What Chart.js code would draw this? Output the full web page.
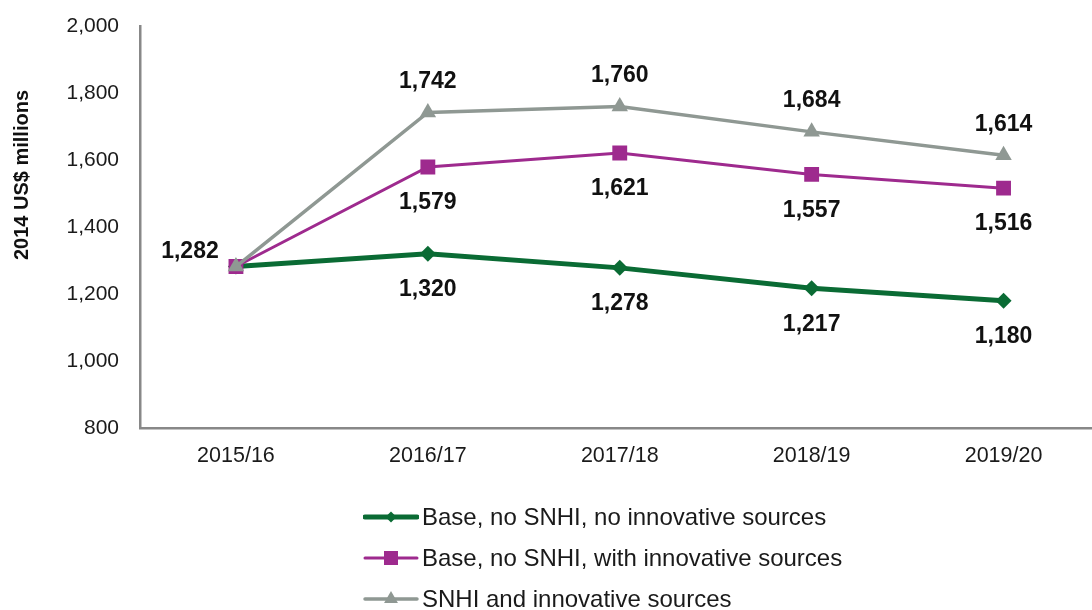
<!DOCTYPE html>
<html>
<head>
<meta charset="utf-8">
<script src="https://cdn.jsdelivr.net/npm/chart.js@4.4.1/dist/chart.umd.min.js"></script>
<style>
  html, body { margin: 0; padding: 0; background: #fff; overflow: hidden; width: 1092px; height: 610px; }
  #wrap { position: absolute; left: 0; top: 0; width: 1110px; height: 480px; }
  #legend { position: absolute; left: 363px; top: 496px; font-family: "Liberation Sans", Arial, sans-serif; font-size: 24px; color: #1a1a1a; }
  .row { display: flex; align-items: center; height: 41px; }
  .row canvas { margin-right: 3px; }
</style>
</head>
<body>
<div id="wrap"><canvas id="c" width="1110" height="480"></canvas></div>
<div id="legend"></div>
<script>
// ---- data ----
const categories = ["2015/16", "2016/17", "2017/18", "2018/19", "2019/20"];
const seriesNames = [
  "Base, no SNHI, no innovative sources",
  "Base, no SNHI, with innovative sources",
  "SNHI and innovative sources"
];
const baseNoInnovative   = [1282, 1320, 1278, 1217, 1180];
const baseWithInnovative = [1282, 1579, 1621, 1557, 1516];
const snhiInnovative     = [1282, 1742, 1760, 1684, 1614];
const yTicks = [800, 1000, 1200, 1400, 1600, 1800, 2000];
const yTitle = "2014 US$ millions";

// ---- styles ----
const styles = [
  { color: "#0A6B34", width: 5,   point: "rectRot",  radius: 8,    labelPos: "below" },
  { color: "#9E2A8E", width: 3,   point: "rect",     radius: 10.5, labelPos: "below" },
  { color: "#8F9893", width: 3.5, point: "triangle", radius: 9.5,  labelPos: "above" }
];
const seriesData = [baseNoInnovative, baseWithInnovative, snhiInnovative];

const fmt = v => v.toLocaleString("en-US");

const datasets = seriesData.map((d, i) => ({
  label: seriesNames[i],
  data: d,
  borderColor: styles[i].color,
  backgroundColor: styles[i].color,
  borderWidth: styles[i].width,
  pointStyle: styles[i].point,
  pointRadius: styles[i].radius,
  pointBorderWidth: 0,
  pointBackgroundColor: styles[i].color,
  tension: 0,
  order: 3 - i
}));

const labelPlugin = {
  id: "dataLabels",
  afterDatasetsDraw(chart) {
    const ctx = chart.ctx;
    ctx.save();
    ctx.font = "bold 23px 'Liberation Sans', Arial, sans-serif";
    ctx.fillStyle = "#111";
    ctx.textAlign = "center";
    ctx.textBaseline = "middle";
    chart.data.datasets.forEach((ds, di) => {
      const meta = chart.getDatasetMeta(di);
      meta.data.forEach((pt, idx) => {
        if (idx === 0) {
          if (di === 2) {
            ctx.fillText(fmt(ds.data[idx]), pt.x - 46, pt.y - 15);
          }
          return;
        }
        const pos = styles[di].labelPos;
        const dy = pos === "above" ? -31 : 36;
        ctx.fillText(fmt(ds.data[idx]), pt.x, pt.y + dy);
      });
    });
    ctx.restore();
  }
};

const titlePlugin = {
  id: "yTitle",
  afterDraw(chart) {
    const ctx = chart.ctx;
    ctx.save();
    ctx.font = "bold 20px 'Liberation Sans', Arial, sans-serif";
    ctx.fillStyle = "#111";
    ctx.textAlign = "center";
    ctx.textBaseline = "middle";
    ctx.translate(22, 175);
    ctx.rotate(-Math.PI / 2);
    ctx.fillText(yTitle, 0, 0);
    ctx.restore();
  }
};

new Chart(document.getElementById("c"), {
  type: "line",
  data: { labels: categories, datasets },
  options: {
    responsive: false,
    animation: false,
    layout: { padding: { top: 26, right: 2, left: 0, bottom: 0 } },
    plugins: { legend: { display: false }, tooltip: { enabled: false } },
    scales: {
      x: {
        offset: true,
        grid: { display: false, drawTicks: false },
        border: { display: true, color: "#888", width: 2.5 },
        ticks: { color: "#1a1a1a", padding: 15, font: { family: "'Liberation Sans', Arial, sans-serif", size: 21.5 }, maxRotation: 0 },
        afterFit(scale) { scale.height = 52; }
      },
      y: {
        min: 800, max: 2000,
        afterBuildTicks(scale) { scale.ticks = yTicks.map(v => ({ value: v })); },
        grid: { display: false, drawTicks: false },
        border: { display: true, color: "#888", width: 2.5 },
        ticks: { color: "#1a1a1a", padding: 21, font: { family: "'Liberation Sans', Arial, sans-serif", size: 21 }, callback: v => fmt(v) },
        afterFit(scale) { scale.width = 140; scale.paddingTop = 12; scale.paddingBottom = 12; }
      }
    }
  },
  plugins: [labelPlugin, titlePlugin]
});

// ---- HTML legend ----
const legend = document.getElementById("legend");
seriesNames.forEach((name, i) => {
  const row = document.createElement("div");
  row.className = "row";
  const sw = document.createElement("canvas");
  sw.width = 56; sw.height = 24;
  const c = sw.getContext("2d");
  const s = styles[i];
  c.strokeStyle = s.color; c.fillStyle = s.color; c.lineWidth = s.width;
  c.lineCap = "round";
  c.beginPath(); c.moveTo(2, 12); c.lineTo(54, 12); c.stroke();
  c.beginPath();
  if (s.point === "rectRot") {
    const r = 5.5; c.moveTo(28 - r, 12); c.lineTo(28, 12 - r); c.lineTo(28 + r, 12); c.lineTo(28, 12 + r);
  } else if (s.point === "rect") {
    c.rect(28 - 7, 12 - 7, 14, 14);
  } else {
    const r = 8; c.moveTo(28, 12 - r); c.lineTo(28 + r * 0.866, 12 + r * 0.5); c.lineTo(28 - r * 0.866, 12 + r * 0.5);
  }
  c.closePath(); c.fill();
  const t = document.createElement("span");
  t.textContent = name;
  row.appendChild(sw); row.appendChild(t);
  legend.appendChild(row);
});
</script>
</body>
</html>
